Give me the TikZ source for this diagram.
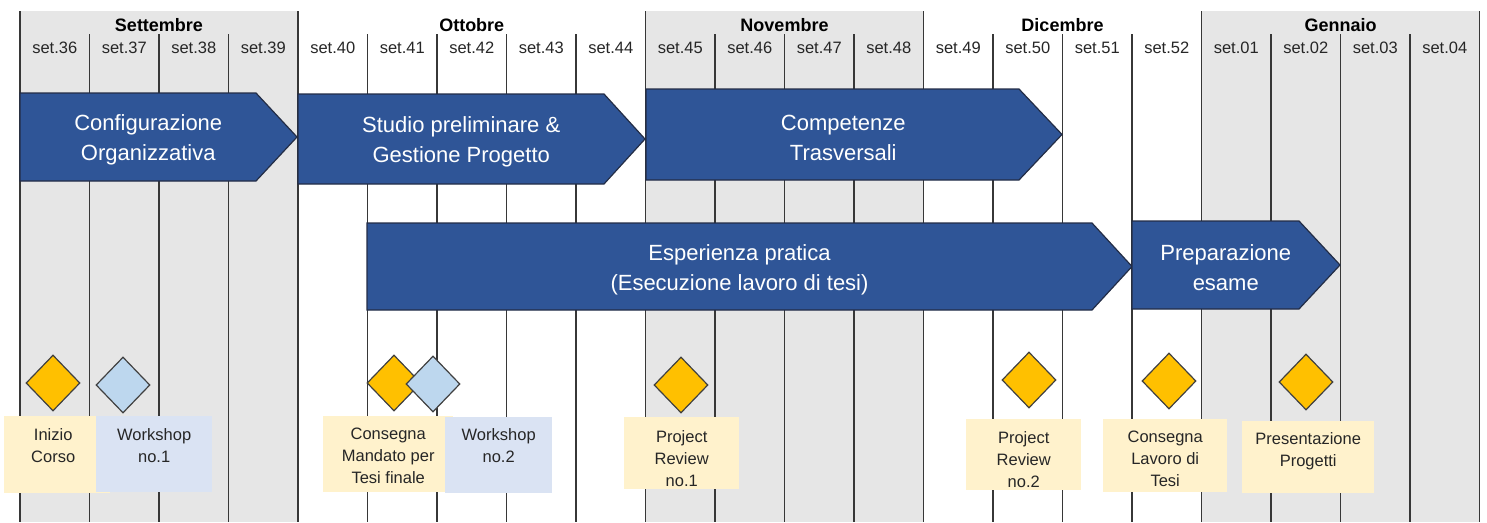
\documentclass[tikz,border=0pt]{standalone}
\usepackage{fontspec}
\setmainfont{Liberation Sans}
\usetikzlibrary{shapes.geometric,positioning}

\definecolor{phaseblue}{RGB}{47,85,151}
\definecolor{phaseline}{RGB}{35,45,70}
\definecolor{monthgrey}{RGB}{230,230,230}
\definecolor{gridline}{RGB}{55,55,55}
\definecolor{msyellow}{RGB}{255,192,0}
\definecolor{msblue}{RGB}{189,215,238}
\definecolor{msline}{RGB}{64,64,64}
\definecolor{labyellow}{RGB}{255,242,204}
\definecolor{labblue}{RGB}{218,227,243}
\definecolor{labelink}{RGB}{38,38,38}

% one phase arrow: name, left, shoulder, tip, top, bottom, text
\newcommand{\phasebar}[7]{%
  \draw [phase] (#2,#5) -- (#3,#5) -- (#4,{(#5+#6)/2}) -- (#3,#6) -- (#2,#6) -- cycle;
  \node [phasetext] (#1) at ({(#2+(#3+#4)/2)/2},{(#5+#6)/2+3}) {#7};
}

\begin{document}
\begin{tikzpicture}[x=1pt, y=-1pt,
  grid/.style={draw=gridline, line width=1.2pt},
  month/.style={font=\bfseries\fontsize{18}{20}\selectfont, text=black},
  week/.style={font=\fontsize{16.5}{18}\selectfont, text=labelink},
  phase/.style={fill=phaseblue, draw=phaseline, line width=1.2pt},
  phasetext/.style={text=white, align=center, font=\fontsize{22}{30}\selectfont},
  msbox/.style={rectangle, inner sep=0pt, anchor=north west},
  labtxt/.style={text=labelink, align=center, inner sep=0pt, font=\fontsize{16.5}{22}\selectfont},
  milestone/.style={diamond, draw=msline, line width=1.2pt, inner sep=0pt, minimum width=54pt, minimum height=56pt}]

\useasboundingbox (0,0) rectangle (1487,522);

\def\xo{20}
\def\colw{69.5}

% months in grey
\fill [monthgrey] (\xo,11) rectangle ({\xo+4*\colw},522);
\fill [monthgrey] ({\xo+9*\colw},11) rectangle ({\xo+13*\colw},522);
\fill [monthgrey] ({\xo+17*\colw},11) rectangle ({\xo+21*\colw},522);

\foreach \i in {0,4,9,13,17,21}
  \draw [grid] ({\xo+\i*\colw},11) -- ({\xo+\i*\colw},522);
\foreach \i in {1,2,3,5,6,7,8,10,11,12,14,15,16,18,19,20}
  \draw [grid] ({\xo+\i*\colw},34) -- ({\xo+\i*\colw},522);

\node [month] (settembre) at ({\xo+2*\colw},25) {Settembre};
\node [month] (ottobre) at ({\xo+6.5*\colw},25) {Ottobre};
\node [month] (novembre) at ({\xo+11*\colw},25) {Novembre};
\node [month] (dicembre) at ({\xo+15*\colw},25) {Dicembre};
\node [month] (gennaio) at ({\xo+19*\colw},25) {Gennaio};

\foreach \w [count=\i from 0] in {36,...,52,01,02,03,04}
  \node [week] (w\i) at ({\xo+(\i+0.5)*\colw},48) {set.\w};

% phases
\phasebar{config}{20}{256}{297}{93}{181}{Configurazione\\Organizzativa}
\phasebar{studio}{298}{604}{645}{94}{184}{Studio preliminare \&\\Gestione Progetto}
\phasebar{compet}{646}{1019}{1062}{89}{180}{Competenze\\Trasversali}
\phasebar{esper}{367}{1092}{1132}{223}{310}{Esperienza pratica\\(Esecuzione lavoro di tesi)}
\phasebar{prepar}{1132}{1299}{1340}{221}{309}{Preparazione\\esame}

% milestone labels
\node [msbox, fill=labyellow, minimum width=106pt, minimum height=77pt] (b-inizio) at (4,416) {};
\node [msbox, fill=labblue, minimum width=116pt, minimum height=76pt] (b-ws1) at (96,416) {};
\node [msbox, fill=labyellow, minimum width=130pt, minimum height=76pt] (b-mandato) at (323,416) {};
\node [msbox, fill=labblue, minimum width=107pt, minimum height=76pt] (b-ws2) at (445,417) {};
\node [msbox, fill=labyellow, minimum width=115pt, minimum height=72pt] (b-pr1) at (624,417) {};
\node [msbox, fill=labyellow, minimum width=115pt, minimum height=71pt] (b-pr2) at (966,419) {};
\node [msbox, fill=labyellow, minimum width=124pt, minimum height=73pt] (b-lavoro) at (1103,419) {};
\node [msbox, fill=labyellow, minimum width=132pt, minimum height=72pt] (b-present) at (1242,421) {};

\node [labtxt, below=12pt of b-inizio.north, xshift=-4pt] (t-inizio) {Inizio\\Corso};
\node [labtxt, below=12pt of b-ws1.north] (t-ws1) {Workshop\\no.1};
\node [labtxt, below=12pt of b-mandato.north] (t-mandato) {Consegna\\Mandato per\\Tesi finale};
\node [labtxt, below=11pt of b-ws2.north] (t-ws2) {Workshop\\no.2};
\node [labtxt, below=13pt of b-pr1.north] (t-pr1) {Project\\Review\\no.1};
\node [labtxt, below=12pt of b-pr2.north] (t-pr2) {Project\\Review\\no.2};
\node [labtxt, below=12pt of b-lavoro.north] (t-lavoro) {Consegna\\Lavoro di\\Tesi};
\node [labtxt, below=11pt of b-present.north] (t-present) {Presentazione\\Progetti};

% milestones
\node [milestone, fill=msyellow] (d-inizio) at (53,383) {};
\node [milestone, fill=msblue] (d-ws1) at (123,385) {};
\node [milestone, fill=msyellow] (d-mandato) at (394,383) {};
\node [milestone, fill=msblue] (d-ws2) at (433,384) {};
\node [milestone, fill=msyellow] (d-pr1) at (681,385) {};
\node [milestone, fill=msyellow] (d-pr2) at (1029,380) {};
\node [milestone, fill=msyellow] (d-lavoro) at (1169,381) {};
\node [milestone, fill=msyellow] (d-present) at (1306,382) {};

\end{tikzpicture}
\end{document}
